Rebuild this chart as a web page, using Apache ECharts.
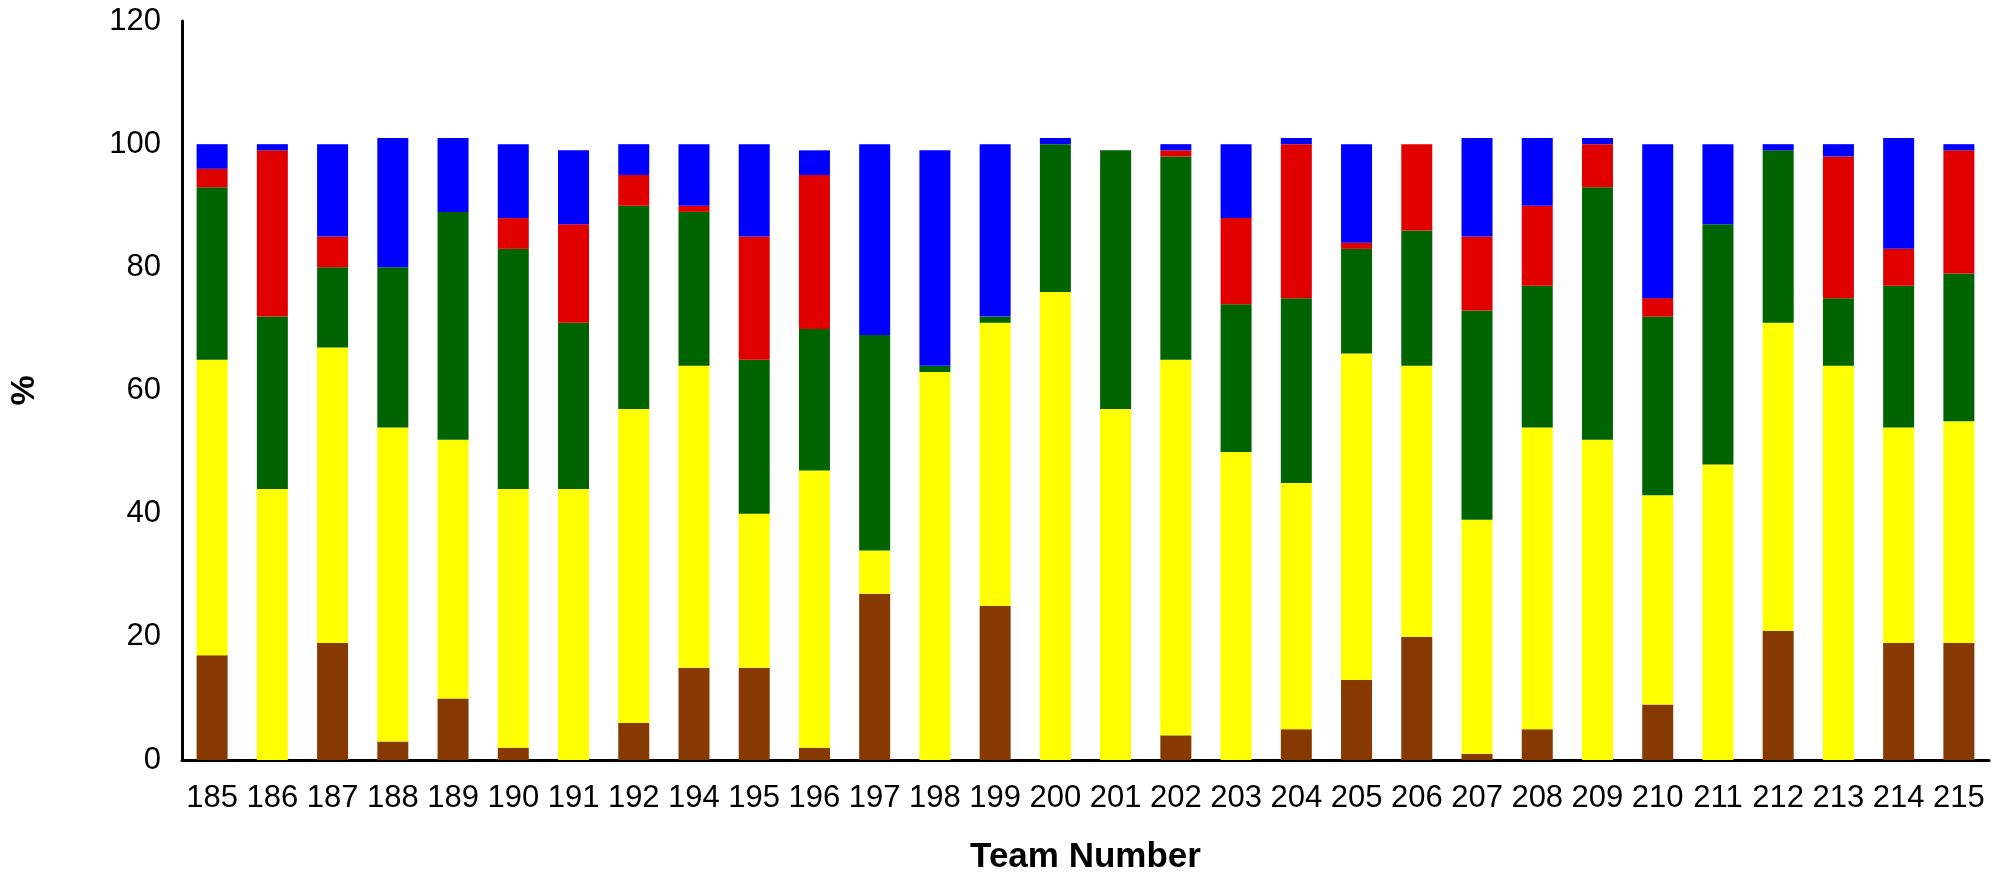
<!DOCTYPE html>
<html>
<head>
<meta charset="utf-8">
<script src="https://cdn.jsdelivr.net/npm/echarts@6/dist/echarts.min.js"></script>
<style>
html,body{margin:0;padding:0;background:#fff;}
#chart{width:2008px;height:880px;}
</style>
</head>
<body>
<div id="chart"></div>
<script>
const teams = ['185','186','187','188','189','190','191','192','194','195','196','197','198','199','200','201','202','203','204','205','206','207','208','209','210','211','212','213','214','215'];
const brownVals  = [17, 0,19, 3,10, 2, 0, 6,15,15, 2,27, 0,25, 0, 0, 4, 0, 5,13,20, 1, 5, 0, 9, 0,21, 0,19,19];
const yellowVals = [48,44,48,51,42,42,44,51,49,25,45, 7,63,46,76,57,61,50,40,53,44,38,49,52,34,48,50,64,35,36];
const greenVals  = [28,28,13,26,37,39,27,33,25,25,23,35, 1, 1,24,42,33,24,30,17,22,34,23,41,29,39,28,11,23,24];
const redVals    = [ 3,27, 5, 0, 0, 5,16, 5, 1,20,25, 0, 0, 0, 0, 0, 1,14,25, 1,14,12,13, 7, 3, 0, 0,23, 6,20];
const blueVals   = [ 4, 1,15,21,12,12,12, 5,10,15, 4,31,35,28, 1, 0, 1,12, 1,16, 0,16,11, 1,25,13, 1, 2,18, 1];
const yTicks = [0, 20, 40, 60, 80, 100, 120];

const seriesDefs = [
  {name: 'Brown',  data: brownVals,  color: '#863900'},
  {name: 'Yellow', data: yellowVals, color: '#FFFF00'},
  {name: 'Green',  data: greenVals,  color: '#006400'},
  {name: 'Red',    data: redVals,    color: '#E10000'},
  {name: 'Blue',   data: blueVals,   color: '#0000FF'}
];

const chart = echarts.init(document.getElementById('chart'), null, {renderer: 'canvas'});
const font = '"Liberation Sans", Arial, sans-serif';
chart.setOption({
  animation: false,
  backgroundColor: '#ffffff',
  grid: {left: 182, right: 19, top: 21, bottom: 116, containLabel: false},
  xAxis: {
    type: 'category',
    data: teams,
    name: 'Team Number',
    nameLocation: 'middle',
    nameGap: 80,
    nameTextStyle: {fontFamily: font, fontSize: 35, fontWeight: 'bold', color: '#000'},
    axisLine: {lineStyle: {color: '#000', width: 3}},
    axisTick: {show: false},
    axisLabel: {fontFamily: font, fontSize: 31, color: '#000', margin: 23, interval: 0}
  },
  yAxis: {
    type: 'value',
    min: yTicks[0],
    max: yTicks[yTicks.length - 1],
    interval: 20,
    name: '%',
    nameLocation: 'middle',
    nameGap: 140,
    nameRotate: 90,
    nameTextStyle: {fontFamily: font, fontSize: 34, fontWeight: 'bold', color: '#000'},
    axisLine: {show: true, lineStyle: {color: '#000', width: 3}},
    axisTick: {show: false},
    splitLine: {show: false},
    axisLabel: {fontFamily: font, fontSize: 31, color: '#000', margin: 21}
  },
  series: seriesDefs.map(s => ({
    name: s.name,
    type: 'bar',
    stack: 'total',
    barWidth: 31,
    data: s.data,
    itemStyle: {color: s.color}
  }))
});
</script>
</body>
</html>
